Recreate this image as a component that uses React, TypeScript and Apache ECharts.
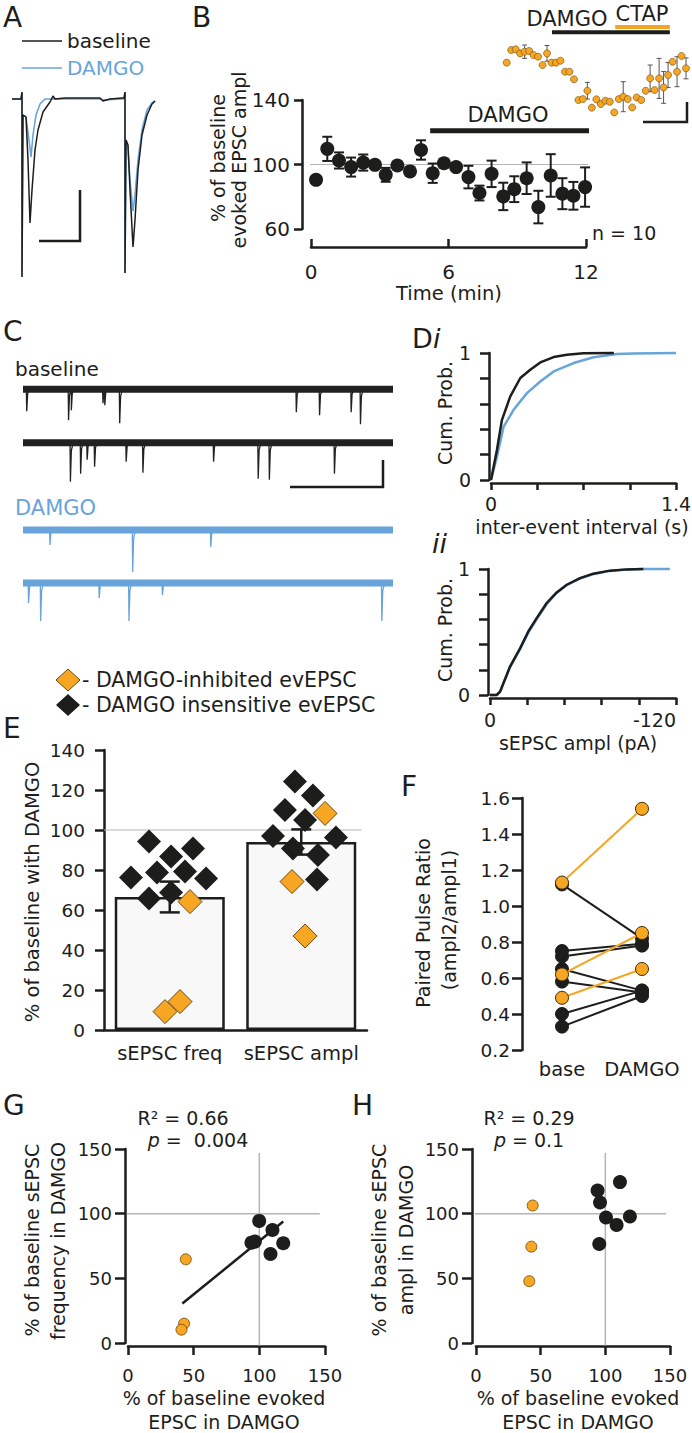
import React, { useEffect, useRef } from "react";
import * as echarts from "echarts";

const FONT = "DejaVu Sans";
const INK = "#1d1d1b";
const BLUE = "#68a4da";
const ORANGE = "#f6a623";
const ORANGE_EDGE = "#6b4a10";
const REF_GRAY = "#b5b5b5";

// ---------- Panel A: example evoked EPSCs, [ms, pA] ----------
const aBaselineTrace: number[][] = [
  [0, 0], [2.25, 0], [2.5, 28], [2.5, -712], [2.75, -64], [3.5, -72], [4, -244], [4.5, -496], [5, -364],
  [5.75, -204], [6.5, -124], [7.75, -52], [9.5, -12], [10.25, 12], [10.75, 0], [13.25, 4], [22, 4],
  [22.75, -8], [24.5, 0], [27.5, 4], [28, 4], [28.25, 28], [28.25, -696], [28.5, -164], [29, -184],
  [29.5, -364], [30.25, -592], [30.75, -484], [31.5, -284], [32.5, -144], [33.75, -64], [35, -20], [35.75, -8],
];
const aDamgoTrace: number[][] = [
  [0, 0], [2.25, 0], [2.5, 28], [2.5, -712], [2.75, -64], [3.5, -72], [4.25, -164], [4.75, -232],
  [5.25, -144], [6, -64], [7, -20], [8.25, 0], [22, 0], [22.75, -4], [27.5, 0], [28, 0], [28.25, 28],
  [28.25, -696], [28.5, -164], [29, -196], [29.5, -324], [30.25, -448], [30.75, -384], [31.5, -244],
  [32.5, -124], [33.75, -44], [35, -16], [35.75, -8],
];

// ---------- Panel B: evoked EPSC time course ----------
const bTime = [0.22, 0.71, 1.22, 1.75, 2.28, 2.79, 3.26, 3.77, 4.32, 4.8, 5.31, 5.8, 6.33, 6.87, 7.35, 7.88, 8.39, 8.87, 9.41, 9.92, 10.46, 10.97, 11.45, 11.96];
const bMean = [90.5, 109.7, 102.5, 98.4, 101.2, 99.8, 93.6, 99.4, 95.7, 109, 94.6, 100.8, 98.4, 92.2, 82.3, 94.2, 80.2, 84.7, 91.5, 73.6, 93.2, 81.9, 80.6, 86];
const bSem = [0, 7.5, 5, 5.9, 5, 2, 4.3, 2, 1.5, 6, 6, 2, 2, 7, 4.6, 8.2, 8.5, 8, 9.8, 10.1, 13.2, 9.6, 8.6, 12.2];
const bDamgoPeriod = [5.2, 12.3];
const REF = 100;

// ---------- Panel B inset: DAMGO then CTAP ----------
const insetValues = [96.4, 107, 107.6, 104.2, 105.6, 106.2, 102.8, 101.4, 94.4, 104.2, 96.4, 96.4, 98, 88.8, 88.8, 82.4, 65, 65.8, 72.8, 58.6, 65.6, 61.6, 64.4, 63.6, 54.6, 65.8, 67.8, 65.8, 58.8, 67.2, 65, 72.8, 83.2, 73.4, 83.2, 75.6, 86, 97.2, 88.8, 102, 91.6];
const insetSem = [0, 0, 0, 0, 5.6, 0, 0, 0, 0, 6.6, 0, 0, 0, 0, 0, 0, 0, 0, 7, 0, 0, 0, 0, 0, 0, 0, 12.6, 0, 0, 0, 0, 0, 11.2, 0, 16.8, 13.3, 10.5, 0, 12.6, 0, 8.8];
const insetDamgo = [10.1, 36.4];
const insetCtap = [24.2, 36.4];

// ---------- Panel C: sEPSC recordings, spikes [s, amplitude] ----------
const cDuration = 3.98;
const cBaseline1 = [[0.04, 22], [0.49, 31], [0.52, 21], [0.86, 14], [0.88, 16], [1.04, 34], [2.94, 23], [3.19, 26], [3.53, 23], [3.63, 35]];
const cBaseline2 = [[0.51, 39], [0.62, 31], [0.69, 17], [0.77, 24], [1.11, 19], [1.29, 30], [2.05, 19], [2.53, 36], [2.65, 37], [3.35, 31]];
const cDamgo1 = [[0.29, 15], [1.18, 42], [2.02, 17]];
const cDamgo2 = [[0.06, 20], [0.19, 38], [0.82, 15], [1.14, 38], [1.5, 12], [3.86, 38]];

// ---------- Panel D: cumulative distributions ----------
const diBaseline = [[0, 0], [0.045, 0.237], [0.083, 0.474], [0.146, 0.658], [0.222, 0.803], [0.297, 0.868], [0.373, 0.926], [0.474, 0.968], [0.574, 0.987], [0.7, 0.998], [0.93, 1]];
const diDamgo = [[0, 0], [0.045, 0.184], [0.096, 0.421], [0.171, 0.553], [0.272, 0.684], [0.373, 0.776], [0.474, 0.855], [0.625, 0.921], [0.776, 0.966], [0.952, 0.992], [1.078, 0.997], [1.4, 1]];
const diiBaseline = [[0, 0], [4.3, 0], [6.5, 0.027], [12.9, 0.225], [19.4, 0.37], [24.7, 0.504], [30.1, 0.61], [36.6, 0.73], [43, 0.814], [49.5, 0.875], [58.1, 0.928], [66.7, 0.963], [77.4, 0.987], [88.2, 0.997], [98.9, 1]];
const diiDamgo = [[0, 0], [4.3, 0], [6.5, 0.025], [12.9, 0.22], [19.4, 0.365], [24.7, 0.495], [30.1, 0.6], [36.6, 0.722], [43, 0.81], [49.5, 0.872], [58.1, 0.925], [66.7, 0.96], [77.4, 0.985], [88.2, 0.996], [98.9, 1], [116, 1]];

// ---------- Panel E ----------
const eCategories = ["sEPSC freq", "sEPSC ampl"];
const eMeans = [66.5, 94];
const eSems = [7.7, 6.3];
// [category + jitter, value]
const eBlack = [
  [-0.158, 94.2], [0.177, 90.8], [0.01, 86.7], [-0.295, 76.3], [-0.097, 78.7], [0.116, 79.2], [0.276, 75.8], [-0.158, 65.8], [0.01, 68.7],
  [0.952, 124.2], [1.089, 117.2], [0.876, 110], [1.029, 105], [0.785, 97], [1.264, 96.3], [0.937, 90.8], [1.127, 87.5], [1.12, 75.3],
];
const eOrange = [[0.154, 64.2], [-0.036, 9.2], [0.078, 14.2], [1.181, 108.3], [0.93, 74.2], [1.029, 47]];

// ---------- Panel F: paired pulse ratio [base, DAMGO] ----------
const fCategories = ["base", "DAMGO"];
const pprBlack = [[1.12, 0.82], [0.75, 0.79], [0.72, 0.78], [0.65, 0.53], [0.58, 0.52], [0.4, 0.53], [0.33, 0.5]];
const pprOrange = [[1.13, 1.54], [0.62, 0.85], [0.49, 0.65]];

// ---------- Panels G, H ----------
const gBlack = [[99.9, 94.4], [110, 87.4], [94, 77.6], [96.6, 78.4], [118.2, 77.1], [108.5, 68.8]];
const gOrange = [[44, 64.7], [42.7, 15], [40.7, 10.3]];
const gFit = [[41.4, 30.5], [118.2, 93.9]];
const hBlack = [[111.3, 124.4], [94, 117.9], [95.9, 108.6], [100.5, 97], [119, 97.8], [108.7, 91.3], [95.3, 76.5]];
const hOrange = [[43.8, 106.3], [42.8, 74.5], [41.2, 47.8]];

function spikeTrace(spikes: number[][], offset: number) {
  const pts: number[][] = [[0, offset]];
  spikes.forEach(([t, a]) => {
    pts.push([t - 0.004, offset], [t, offset - a], [t + 0.01, offset - a * 0.2], [t + 0.03, offset]);
  });
  pts.push([cDuration, offset]);
  return pts;
}

// data items: [x, low, high]
function errRender(cap: number, color: string, width: number) {
  return (params: any, api: any) => {
    const x = api.value(0);
    const lo = api.value(1);
    const hi = api.value(2);
    if (!(hi > lo)) return { type: "group", children: [] };
    const top = api.coord([x, hi]);
    const bot = api.coord([x, lo]);
    const st = { stroke: color, lineWidth: width };
    return {
      type: "group",
      children: [
        { type: "line", shape: { x1: top[0], y1: top[1], x2: bot[0], y2: bot[1] }, style: st },
        { type: "line", shape: { x1: top[0] - cap, y1: top[1], x2: top[0] + cap, y2: top[1] }, style: st },
        { type: "line", shape: { x1: bot[0] - cap, y1: bot[1], x2: bot[0] + cap, y2: bot[1] }, style: st },
      ],
    };
  };
}
const errData = (xs: number[], means: number[], sems: number[]) => xs.map((x, i) => [x, means[i] - sems[i], means[i] + sems[i]]);

const axLine = { show: true, onZero: false, lineStyle: { color: INK, width: 2.5 } };
const lab = (size: number, margin: number, extra: any = {}) => ({ color: INK, fontFamily: FONT, fontSize: size, margin, ...extra });
const tick = (length: number, inside = false) => ({ show: true, length, inside, lineStyle: { color: INK, width: 2.5 } });
const hidden = (gridIndex: number, min: number, max: number) => ({ type: "value", gridIndex, min, max, show: false, axisLine: { onZero: false } });
const near = (v: number, t: number) => Math.abs(v - t) < 1e-6;

function T(x: number, y: number, text: string, size: number, o: any = {}) {
  const align = o.align ?? "center";
  return {
    type: "text", x, y, rotation: o.rot ?? 0, z: 50, silent: true,
    style: {
      text, fill: o.color ?? INK, fontSize: size, fontFamily: FONT, fontStyle: o.italic ? "italic" : "normal",
      align, verticalAlign: "middle", textAlign: align, textVerticalAlign: "middle", rich: o.rich,
    },
  };
}
const R = Math.PI / 2;

function buildOption() {
  const grids = [
    { left: 12, top: 88, width: 144, height: 192 }, // A
    { left: 311, top: 100, width: 275, height: 129 }, // B
    { left: 506.7, top: 40.5, width: 179.3, height: 77.4 }, // inset
    { left: 23, top: 380, width: 370, height: 250 }, // C
    { left: 491, top: 353, width: 185, height: 127 }, // Di
    { left: 490, top: 569, width: 186, height: 126 }, // Dii
    { left: 104, top: 750, width: 263, height: 280 }, // E
    { left: 522, top: 798, width: 160, height: 252 }, // F
    { left: 128, top: 1149, width: 197, height: 194 }, // G
    { left: 476, top: 1149, width: 194, height: 194 }, // H
  ].map((g) => ({ ...g, show: false, containLabel: false, outerBoundsMode: "none" }));

  const xAxis: any[] = [
    hidden(0, 0, 36),
    { type: "value", gridIndex: 1, min: 0, max: 12, interval: 6, offset: 18, axisLine: axLine, axisTick: tick(8, true), axisLabel: lab(20, 15), splitLine: { show: false } },
    hidden(2, 0, 40),
    hidden(3, 0, cDuration),
    { type: "value", gridIndex: 4, min: 0, max: 1.4, interval: 0.35, offset: 3, axisLine: axLine, axisTick: tick(7), splitLine: { show: false },
      axisLabel: lab(19, 11, { formatter: (v: number) => (near(v, 0) ? "0" : near(v, 1.4) ? "1.4" : "") }) },
    { type: "value", gridIndex: 5, min: 0, max: 120, interval: 24, offset: 3, axisLine: axLine, axisTick: tick(7), splitLine: { show: false },
      axisLabel: lab(19, 12, { alignMaxLabel: "right", formatter: (v: number) => (near(v, 0) ? "0" : near(v, 120) ? "-120" : "") }) },
    { type: "category", gridIndex: 6, data: eCategories, axisLine: axLine, axisTick: { show: false }, axisLabel: lab(19.5, 13, { interval: 0 }) },
    hidden(6, -0.5, 1.5),
    { type: "category", gridIndex: 7, data: fCategories, axisLine: { show: false, onZero: false }, axisTick: { show: false }, axisLabel: lab(19.5, 9, { interval: 0 }) },
    { type: "value", gridIndex: 8, min: 0, max: 150, interval: 50, offset: 3, axisLine: axLine, axisTick: tick(9), axisLabel: lab(18, 20), splitLine: { show: false } },
    { type: "value", gridIndex: 9, min: 0, max: 150, interval: 50, offset: 3, axisLine: axLine, axisTick: tick(9), axisLabel: lab(18, 20), splitLine: { show: false } },
  ];
  const yAxis: any[] = [
    hidden(0, -724, 44),
    { type: "value", gridIndex: 1, min: 60, max: 140, interval: 40, offset: 9, axisLine: axLine, axisTick: tick(8), axisLabel: lab(20, 12), splitLine: { show: false } },
    hidden(2, 50, 115),
    hidden(3, -250, 0),
    { type: "value", gridIndex: 4, min: 0, max: 1, interval: 0.2, offset: 2, axisLine: axLine, axisTick: tick(9), splitLine: { show: false },
      axisLabel: lab(19, 18, { formatter: (v: number) => (near(v, 0) ? "0" : near(v, 1) ? "1" : "") }) },
    { type: "value", gridIndex: 5, min: 0, max: 1, interval: 0.2, offset: 2, axisLine: axLine, axisTick: tick(9), splitLine: { show: false },
      axisLabel: lab(19, 18, { formatter: (v: number) => (near(v, 0) ? "0" : near(v, 1) ? "1" : "") }) },
    { type: "value", gridIndex: 6, min: 0, max: 140, interval: 20, axisLine: axLine, axisTick: tick(9), axisLabel: lab(18.5, 19), splitLine: { show: false } },
    { type: "value", gridIndex: 7, min: 0.2, max: 1.6, interval: 0.2, axisLine: axLine, axisTick: tick(10), splitLine: { show: false },
      axisLabel: lab(18.5, 12, { formatter: (v: number) => v.toFixed(1) }) },
    { type: "value", gridIndex: 8, min: 0, max: 150, interval: 50, offset: 3, axisLine: axLine, axisTick: tick(10), axisLabel: lab(18, 13), splitLine: { show: false } },
    { type: "value", gridIndex: 9, min: 0, max: 150, interval: 50, offset: 4, axisLine: axLine, axisTick: tick(10), axisLabel: lab(18, 13), splitLine: { show: false } },
  ];

  const lineS = (xi: number, yi: number, data: any[], color: string, width: number, z = 2, extra: any = {}) => ({
    type: "line", xAxisIndex: xi, yAxisIndex: yi, data, symbol: "none", clip: false, z,
    lineStyle: { color, width }, ...extra,
  });

  const series: any[] = [];
  // A
  series.push(lineS(0, 0, aDamgoTrace, BLUE, 1.6, 2));
  series.push(lineS(0, 0, aBaselineTrace, INK, 1.5, 3));
  // B
  series.push(lineS(1, 1, [[-0.35, REF], [12.26, REF]], REF_GRAY, 1.2, 1));
  series.push(lineS(1, 1, [[bDamgoPeriod[0], 121], [bDamgoPeriod[1], 121]], INK, 5, 2));
  series.push({ type: "custom", xAxisIndex: 1, yAxisIndex: 1, clip: false, z: 3,
    data: errData(bTime, bMean, bSem), renderItem: errRender(5, INK, 2) });
  series.push({ type: "scatter", xAxisIndex: 1, yAxisIndex: 1, z: 4, symbolSize: 14,
    data: bTime.map((t, i) => [t, bMean[i]]), itemStyle: { color: INK, opacity: 1 } });
  // inset
  series.push(lineS(2, 2, [[insetDamgo[0], 122], [insetDamgo[1], 122]], INK, 4, 2));
  series.push(lineS(2, 2, [[insetCtap[0], 126.3], [insetCtap[1], 126.3]], ORANGE, 4, 3));
  series.push({ type: "custom", xAxisIndex: 2, yAxisIndex: 2, clip: false, z: 3,
    data: errData(insetValues.map((_, i) => i), insetValues, insetSem), renderItem: errRender(2.5, "#555", 1) });
  series.push({ type: "scatter", xAxisIndex: 2, yAxisIndex: 2, z: 4, symbolSize: 7,
    data: insetValues.map((v, i) => [i, v]), itemStyle: { color: ORANGE, borderColor: ORANGE_EDGE, borderWidth: 0.6, opacity: 1 } });
  // C
  const cRows = [
    { spikes: cBaseline1, offset: -9.3, color: "#222222" },
    { spikes: cBaseline2, offset: -62.7, color: "#222222" },
    { spikes: cDamgo1, offset: -150, color: BLUE },
    { spikes: cDamgo2, offset: -203, color: BLUE },
  ];
  cRows.forEach((r) => {
    series.push(lineS(3, 3, [[0, r.offset], [cDuration, r.offset]], r.color, 7, 2));
    series.push(lineS(3, 3, spikeTrace(r.spikes, r.offset), r.color, 1.3, 3));
  });
  // D
  series.push(lineS(4, 4, diDamgo, BLUE, 2.5, 2));
  series.push(lineS(4, 4, diBaseline, INK, 2.5, 3));
  series.push(lineS(5, 5, diiDamgo, BLUE, 2.5, 2));
  series.push(lineS(5, 5, diiBaseline, INK, 2.5, 3));
  // E
  series.push(lineS(7, 6, [[-0.5, REF], [1.46, REF]], REF_GRAY, 1.2, 1));
  series.push({ type: "bar", xAxisIndex: 6, yAxisIndex: 6, data: eMeans, barWidth: 110, z: 2,
    itemStyle: { color: "#f8f8f8", borderColor: INK, borderWidth: 2.5 } });
  series.push({ type: "scatter", xAxisIndex: 7, yAxisIndex: 6, data: eBlack, symbol: "diamond", symbolSize: 24, z: 3,
    itemStyle: { color: INK, opacity: 1 } });
  series.push({ type: "scatter", xAxisIndex: 7, yAxisIndex: 6, data: eOrange, symbol: "diamond", symbolSize: 24, z: 4,
    itemStyle: { color: ORANGE, borderColor: ORANGE_EDGE, borderWidth: 1, opacity: 1 } });
  series.push({ type: "custom", xAxisIndex: 7, yAxisIndex: 6, clip: false, z: 5,
    data: errData([0, 1], eMeans, eSems), renderItem: errRender(10, INK, 2.5) });
  // F
  pprBlack.forEach((p) => series.push({ type: "line", xAxisIndex: 8, yAxisIndex: 7, data: p, symbol: "circle", symbolSize: 13, z: 3,
    lineStyle: { color: INK, width: 2 }, itemStyle: { color: INK, borderColor: INK } }));
  pprOrange.forEach((p) => series.push({ type: "line", xAxisIndex: 8, yAxisIndex: 7, data: p, symbol: "circle", symbolSize: 13, z: 4,
    lineStyle: { color: ORANGE, width: 2 }, itemStyle: { color: ORANGE, borderColor: "#3a2a0a", borderWidth: 1 } }));
  // G
  series.push(lineS(9, 8, [[-0.8, REF], [146, REF]], REF_GRAY, 1.5, 1));
  series.push(lineS(9, 8, [[REF, 147], [REF, -2]], REF_GRAY, 1.5, 1));
  series.push(lineS(9, 8, gFit, INK, 2.5, 3));
  series.push({ type: "scatter", xAxisIndex: 9, yAxisIndex: 8, data: gBlack, symbolSize: 14, z: 4, itemStyle: { color: INK, opacity: 1 } });
  series.push({ type: "scatter", xAxisIndex: 9, yAxisIndex: 8, data: gOrange, symbolSize: 11, z: 4,
    itemStyle: { color: ORANGE, borderColor: ORANGE_EDGE, borderWidth: 0.8, opacity: 1 } });
  // H
  series.push(lineS(10, 9, [[-2.5, REF], [147, REF]], REF_GRAY, 1.5, 1));
  series.push(lineS(10, 9, [[REF, 147], [REF, -2]], REF_GRAY, 1.5, 1));
  series.push({ type: "scatter", xAxisIndex: 10, yAxisIndex: 9, data: hBlack, symbolSize: 14, z: 4, itemStyle: { color: INK, opacity: 1 } });
  series.push({ type: "scatter", xAxisIndex: 10, yAxisIndex: 9, data: hOrange, symbolSize: 11, z: 4,
    itemStyle: { color: ORANGE, borderColor: ORANGE_EDGE, borderWidth: 0.8, opacity: 1 } });

  const bar = (pts: number[][]) => ({ type: "polyline", z: 40, silent: true, shape: { points: pts }, style: { stroke: INK, lineWidth: 2.5, fill: null } });
  const richP = (size: number) => ({
    i: { fontStyle: "italic", fontSize: size, fontFamily: FONT, fill: INK },
    n: { fontSize: size, fontFamily: FONT, fill: INK },
  });

  const graphic: any[] = [
    // panel letters
    T(3, 17, "A", 28, { align: "left" }),
    T(192, 17, "B", 28, { align: "left" }),
    T(3, 331, "C", 28, { align: "left" }),
    T(412, 338, "D", 27, { align: "left" }),
    T(433, 338, "i", 27, { align: "left", italic: true }),
    T(432, 543, "ii", 27, { align: "left", italic: true }),
    T(3, 728, "E", 28, { align: "left" }),
    T(401, 786, "F", 28, { align: "left" }),
    T(3, 1105, "G", 28, { align: "left" }),
    T(352, 1105, "H", 28, { align: "left" }),
    // A legend
    { type: "line", z: 40, silent: true, shape: { x1: 22, y1: 41, x2: 62, y2: 41 }, style: { stroke: INK, lineWidth: 1.5 } },
    { type: "line", z: 40, silent: true, shape: { x1: 22, y1: 68, x2: 62, y2: 68 }, style: { stroke: BLUE, lineWidth: 1.5 } },
    T(67, 41, "baseline", 20, { align: "left" }),
    T(67, 68, "DAMGO", 20, { align: "left", color: BLUE }),
    bar([[39, 241], [80, 241], [80, 190]]),
    // B
    T(218, 158, "% of baseline", 19, { rot: R }),
    T(239, 160, "evoked EPSC ampl", 19, { rot: R }),
    T(508, 115, "DAMGO", 21),
    T(592, 233, "n = 10", 19, { align: "left" }),
    T(449, 293, "Time (min)", 19.5),
    T(567, 19, "DAMGO", 21),
    T(642, 14, "CTAP", 21),
    bar([[643, 122], [687, 122], [687, 102]]),
    // C
    T(15, 369, "baseline", 20, { align: "left" }),
    T(15, 508, "DAMGO", 21, { align: "left", color: BLUE }),
    bar([[290, 487], [383, 487], [383, 460]]),
    // D
    T(445, 413, "Cum. Prob.", 19, { rot: R }),
    T(445, 630, "Cum. Prob.", 19, { rot: R }),
    T(582, 527, "inter-event interval (s)", 19),
    T(578, 743, "sEPSC ampl (pA)", 19),
    // legend for E
    { type: "polygon", z: 40, silent: true, shape: { points: [[68, 669], [80, 680], [68, 691], [56, 680]] }, style: { fill: ORANGE, stroke: ORANGE_EDGE, lineWidth: 1 } },
    { type: "polygon", z: 40, silent: true, shape: { points: [[68, 694], [80, 705], [68, 716], [56, 705]] }, style: { fill: INK } },
    T(82, 680, "- DAMGO-inhibited evEPSC", 20.5, { align: "left" }),
    T(82, 705, "- DAMGO insensitive evEPSC", 20.5, { align: "left" }),
    T(32, 892, "% of baseline with DAMGO", 19.5, { rot: R }),
    // F
    T(423, 923, "Paired Pulse Ratio", 19, { rot: R }),
    T(449, 920, "(ampl2/ampl1)", 19, { rot: R }),
    // G
    T(183, 1118, "R² = 0.66", 19),
    T(198, 1140, "{i|p}{n| =  0.004}", 19, { rich: richP(19) }),
    T(32, 1240, "% of baseline sEPSC", 19, { rot: R }),
    T(58, 1241, "frequency in DAMGO", 19, { rot: R }),
    T(224, 1398, "% of baseline evoked", 19),
    T(224, 1422, "EPSC in DAMGO", 19),
    // H
    T(529, 1118, "R² = 0.29", 19),
    T(529, 1140, "{i|p}{n| = 0.1}", 19, { rich: richP(19) }),
    T(379, 1240, "% of baseline sEPSC", 19, { rot: R }),
    T(406, 1240, "ampl in DAMGO", 19, { rot: R }),
    T(578, 1398, "% of baseline evoked", 19),
    T(578, 1422, "EPSC in DAMGO", 19),
  ];

  return {
    animation: false,
    backgroundColor: "#ffffff",
    textStyle: { fontFamily: FONT, color: INK },
    grid: grids,
    xAxis,
    yAxis,
    series,
    graphic,
  };
}

export default function App() {
  const ref = useRef<HTMLDivElement>(null);
  useEffect(() => {
    if (!ref.current) return;
    const chart = echarts.init(ref.current, undefined, { renderer: "svg" });
    chart.setOption(buildOption() as any);
    return () => chart.dispose();
  }, []);
  return (
    <div
      ref={ref}
      style={{ position: "absolute", left: 0, top: 0, width: 692, height: 1433, background: "#fff" }}
    />
  );
}
